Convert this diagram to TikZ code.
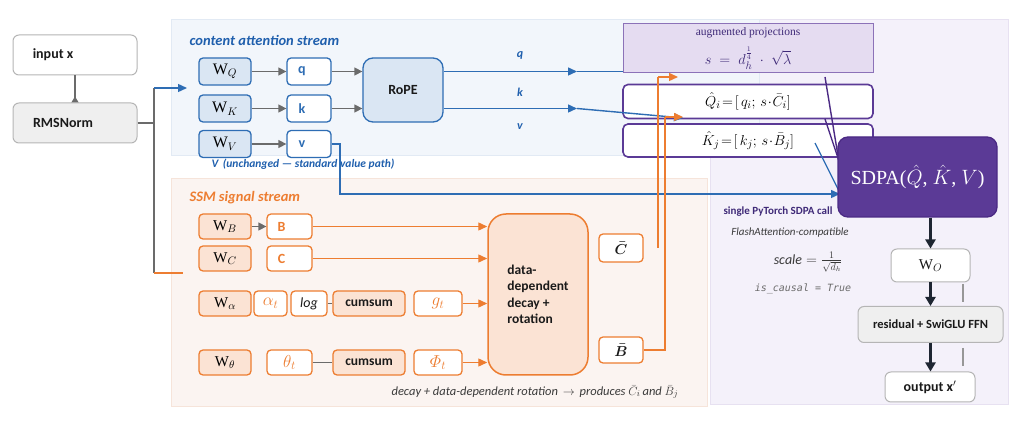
\documentclass[tikz,border=0pt]{standalone}
\usepackage{amsmath}
\usepackage{amssymb}
\usepackage{fontspec}
\setmainfont{Carlito}
\setmonofont{DejaVu Sans Mono}
\newfontfamily\cambria{Liberation Serif}
\usetikzlibrary{arrows.meta}
\definecolor{bluel}{HTML}{2E6DB4}
\definecolor{bluetxt}{HTML}{1F5FAD}
\definecolor{bluefill}{HTML}{DAE6F3}
\definecolor{bluepanel}{HTML}{F2F6FB}
\definecolor{bluepanelline}{HTML}{E2EAF4}
\definecolor{orng}{HTML}{ED7D31}
\definecolor{orfill}{HTML}{FBE3D4}
\definecolor{orpanel}{HTML}{FBF4F1}
\definecolor{orpanelline}{HTML}{F6E4DA}
\definecolor{purp}{HTML}{5B3A96}
\definecolor{purpdark}{HTML}{4B2A84}
\definecolor{purptxt}{HTML}{3F2A78}
\definecolor{purpfill}{HTML}{E5DCF1}
\definecolor{purpline}{HTML}{8C72B8}
\definecolor{purppanel}{HTML}{F4F1FA}
\definecolor{purppanelline}{HTML}{E7E1F1}
\definecolor{grayline}{HTML}{6B6B6B}
\definecolor{grayborder}{HTML}{B5B5B5}
\definecolor{grayfill}{HTML}{EFEFEF}
\definecolor{darkink}{HTML}{1E2632}
\definecolor{txt}{HTML}{1A1A1A}
\definecolor{softtxt}{HTML}{3A3A3A}
\tikzset{
  graybox/.style={draw=grayborder, line width=1pt, rounded corners=6pt, fill=white, text=txt, font=\fontsize{14}{16}\selectfont\bfseries},
  wbox/.style={draw=bluel, fill=bluefill, line width=1.3pt, rounded corners=4pt, minimum width=52pt, minimum height=27pt, font=\cambria\fontsize{16}{18}\selectfont},
  vecbox/.style={draw=bluel, fill=white, line width=1.3pt, rounded corners=4pt, minimum width=44pt, minimum height=27pt, text=bluel, font=\fontsize{14}{16}\selectfont\bfseries},
  owbox/.style={draw=orng, fill=orfill, line width=1.3pt, rounded corners=4pt, minimum width=52pt, minimum height=25pt, font=\cambria\fontsize{15}{17}\selectfont},
  obox/.style={draw=orng, fill=white, line width=1.3pt, rounded corners=4pt, minimum height=25pt, text=orng, font=\fontsize{17}{19}\selectfont},
  projbox/.style={draw=purp, fill=white, line width=1.6pt, rounded corners=5pt, minimum width=250pt, font=\fontsize{15}{17}\selectfont},
  gar/.style={draw=grayline, line width=1.4pt, -{Triangle[length=8pt,width=8pt]}},
  bar/.style={draw=bluel, line width=1.4pt, -{Triangle[length=9pt,width=8pt]}},
  oar/.style={draw=orng, line width=1.4pt, -{Triangle[length=9pt,width=8pt]}},
  kar/.style={draw=darkink, line width=2.2pt, -{Triangle[length=9pt,width=10pt]}},
  streamlbl/.style={anchor=west, font=\fontsize{14.5}{17}\selectfont\bfseries\itshape}
}
\begin{document}
\begin{tikzpicture}[x=1pt,y=-1pt]
\useasboundingbox (0,0) rectangle (1028,427);
\filldraw[fill=purppanel, draw=purppanelline] (710,19) rectangle (1008,404);
\filldraw[fill=bluepanel, draw=bluepanelline] (171,19) rectangle (759,155);
\filldraw[fill=orpanel, draw=orpanelline] (171,178) rectangle (707,406);
\node[streamlbl, text=bluetxt] at (186,40) {content attention stream};
\node[streamlbl, text=orng] at (186,198) {SSM signal stream};
\node[graybox, minimum width=124pt, minimum height=40pt] (inp) at (75,55) {\hspace*{-44pt}input x};
\node[graybox, fill=grayfill, minimum width=124pt, minimum height=40pt] (rms) at (75,123) {\hspace*{-24pt}RMSNorm};
\draw[draw=grayline, line width=1.4pt, -{Triangle[length=6pt,width=7pt,reversed]}] (inp) -- (rms);
\node[wbox] (wq) at (225,71.5) {W$_{Q}$};
\node[wbox] (wk) at (225,108.5) {W$_{K}$};
\node[wbox] (wv) at (225,144) {W$_{V}$};
\node[vecbox] (q) at (309,71.5) {\hspace*{-14pt}q};
\node[vecbox] (k) at (309,108.5) {\hspace*{-14pt}k};
\node[vecbox] (v) at (309,144) {\hspace*{-14pt}v};
\node[draw=bluel, fill=bluefill, line width=1.3pt, rounded corners=10pt, minimum width=80pt, minimum height=64pt, text=txt, font=\fontsize{14}{16}\selectfont\bfseries] (rope) at (403,90) {RoPE};
\coordinate (fork) at (154,123);
\coordinate (forktop) at (154,88);
\coordinate (forkbot) at (154,273);
\coordinate (qin) at (187,88);
\coordinate (sin) at (183,273);
\draw[grayline, line width=1.4pt] (rms.east |- fork) -- (fork);
\draw[grayline, line width=1.4pt] (forktop) -- (forkbot);
\draw[bar] (forktop) -- (qin);
\draw[orng, line width=1.4pt] (forkbot) -- (sin);
\draw[gar] (wq) -- (q);
\draw[gar] (wk) -- (k);
\draw[gar] (wv) -- (v);
\draw[gar] (q) -- (rope.west |- q);
\draw[gar] (k) -- (rope.west |- k);
\node[text=bluetxt, font=\fontsize{11.5}{13}\selectfont\bfseries\itshape] at (303,164) {V\, (unchanged --- standard value path)};
\node[draw=purpline, fill=purpfill, line width=1pt, minimum width=250pt, minimum height=49pt] (aug) at (748,48.5) {};
\node[text=purptxt, font=\cambria\fontsize{11.5}{13}\selectfont] at (748,33) {augmented projections};
\node[text=purptxt, font=\fontsize{15}{17}\selectfont] at (748,58) {$s \;=\; d_h^{\frac{1}{4}}\;\cdot\;\sqrt{\lambda}$};
\node[projbox, minimum height=34pt] (qhat) at (748,101.5) {$\hat{Q}_i\!=\![\,q_i;\,s\!\cdot\!\bar{C}_i]$};
\node[projbox, minimum height=33pt] (khat) at (748,140.5) {$\hat{K}_j\!=\![\,k_j;\,s\!\cdot\!\bar{B}_j]$};
\coordinate (qmid) at (577,71.5);
\coordinate (kmid) at (577,108.5);
\coordinate (kend) at (683,118);
\draw[bar] (rope.east |- q) -- (qmid);
\draw[bluel, line width=1.4pt] (qmid) -- (qmid -| aug.west);
\draw[bar] (rope.east |- k) -- (kmid);
\draw[bar] (kmid) -- (kend);
\node[text=bluetxt, font=\fontsize{12}{14}\selectfont\bfseries\itshape] at (520,55) {q};
\node[text=bluetxt, font=\fontsize{12}{14}\selectfont\bfseries\itshape] at (520,92) {k};
\node[text=bluetxt, font=\fontsize{12}{14}\selectfont\bfseries\itshape] at (520,127) {v};
\coordinate (augout) at (825,77);
\coordinate (qout) at (825,119);
\coordinate (kout) at (815,143);
\coordinate (sdpaq) at (840,168);
\coordinate (sdpak) at (840,164);
\coordinate (sdpav) at (841,195);
\coordinate (vturn) at (340,144);
\coordinate (vin) at (840,194);
\draw[purpdark, line width=1.4pt] (augout) -- (sdpaq);
\draw[purpdark, line width=1.4pt] (qout) -- (sdpak);
\draw[bluel, line width=1.2pt] (kout) -- (sdpav);
\draw[bar] (v.east) -- (vturn) |- (vin);
\node[draw=purpdark, fill=purp, line width=1.3pt, rounded corners=10pt, minimum width=159pt, minimum height=80pt, text=white, font=\cambria\fontsize{20}{22}\selectfont] (sdpa) at (917.5,177) {SDPA($\hat{Q}$, $\hat{K}$, $V$)};
\node[owbox] (wb) at (225,226.5) {W$_{B}$};
\node[owbox] (wc) at (225,258.5) {W$_{C}$};
\node[owbox] (wal) at (225,303.5) {W$_{\alpha}$};
\node[owbox] (wth) at (225,362.5) {W$_{\theta}$};
\node[obox, minimum width=45pt, font=\fontsize{14}{16}\selectfont\bfseries] (bb) at (289.5,226.5) {\hspace*{-16pt}B};
\node[obox, minimum width=45pt, font=\fontsize{14}{16}\selectfont\bfseries] (cc) at (289.5,258.5) {\hspace*{-16pt}C};
\node[obox, minimum width=33pt] (alt) at (270.5,303.5) {$\alpha_t$};
\node[obox, minimum width=36pt, text=txt, font=\fontsize{14}{16}\selectfont\itshape] (lg) at (309,303.5) {log};
\node[obox, minimum width=72pt, fill=orfill, text=txt, font=\fontsize{13.5}{16}\selectfont\bfseries] (cs1) at (369,303.5) {cumsum};
\node[obox, minimum width=48pt] (gt) at (438,303.5) {$g_t$};
\node[obox, minimum width=45pt] (tht) at (289.5,362.5) {$\theta_t$};
\node[obox, minimum width=72pt, fill=orfill, text=txt, font=\fontsize{13.5}{16}\selectfont\bfseries] (cs2) at (369,362.5) {cumsum};
\node[obox, minimum width=48pt] (pht) at (438,362.5) {$\varPhi_t$};
\node[draw=orng, fill=orfill, line width=1.5pt, rounded corners=18pt, minimum width=100pt, minimum height=161pt, text=txt, align=left, font=\fontsize{13.5}{16.5}\selectfont\bfseries] (decay) at (538,294.5) {data-\\dependent\\decay +\\rotation};
\draw[gar] (wb) -- (bb);
\draw[grayline, line width=1.2pt] (lg) -- (cs1);
\draw[grayline, line width=1.2pt] (tht) -- (cs2);
\draw[oar] (bb) -- (decay.west |- bb);
\draw[oar] (cc) -- (decay.west |- cc);
\draw[oar] (gt) -- (decay.west |- gt);
\draw[oar] (pht) -- (decay.west |- pht);
\node[obox, minimum width=44pt, minimum height=28pt, text=txt, font=\fontsize{15}{17}\selectfont] (cbar) at (621,248) {$\boldsymbol{\bar{C}}$};
\node[obox, minimum width=44pt, minimum height=26pt, text=txt, font=\fontsize{15}{17}\selectfont] (bbar) at (621,350) {$\boldsymbol{\bar{B}}$};
\coordinate (cup) at (658,248);
\coordinate (cturn) at (658,77);
\coordinate (cend) at (678,77);
\coordinate (bturn) at (665,350);
\coordinate (bup) at (665,117);
\coordinate (bend) at (683,117);
\draw[orng, line width=1.4pt] (cup) -- (cturn);
\draw[oar] (cturn) -- (cend);
\draw[orng, line width=1.4pt] (bbar.east) -- (bturn) -- (bup);
\draw[oar] (bup) -- (bend);
\node[text=softtxt, font=\fontsize{12.5}{14}\selectfont\itshape] at (535,392) {decay + data-dependent rotation $\,\rightarrow\,$ produces $\bar{C}_i$\,and $\bar{B}_j$};
\node[text=purptxt, font=\fontsize{11}{13}\selectfont\bfseries] at (778,212) {single PyTorch SDPA call};
\node[text=softtxt, font=\fontsize{11}{13}\selectfont\itshape] at (790,233) {FlashAttention-compatible};
\node[text=softtxt, font=\fontsize{14}{16}\selectfont] at (808,262) {$\mathit{scale} = \frac{1}{\sqrt{d_h}}$};
\node[text=grayline, font=\ttfamily\itshape\fontsize{10}{12}\selectfont] at (803,289) {is\_causal = True};
\node[graybox, minimum width=79pt, minimum height=33pt, font=\cambria\fontsize{15}{17}\selectfont] (wo) at (930.5,265.5) {W$_{O}$};
\node[graybox, fill=grayfill, minimum width=145pt, minimum height=36pt, font=\fontsize{12.5}{15}\selectfont\bfseries] (res) at (930.5,324.5) {residual + SwiGLU FFN};
\node[graybox, minimum width=90pt, minimum height=30pt] (out) at (930,387) {output x$'$};
\draw[kar] (sdpa.south -| wo) -- (wo);
\draw[kar] (wo) -- (res.north -| wo);
\draw[kar] (res.south -| wo) -- (out.north -| wo);
\draw[grayline!70, line width=1.2pt] (963,284) -- (963,302);
\draw[grayline!70, line width=1.2pt] (963,348) -- (963,366);
\end{tikzpicture}
\end{document}
